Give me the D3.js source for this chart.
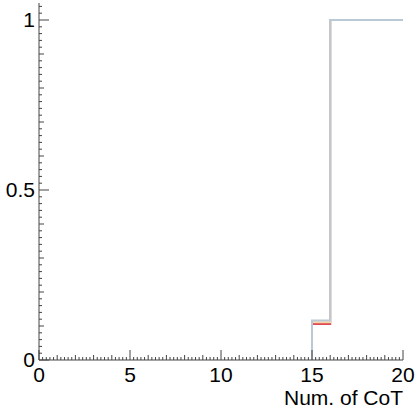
<!DOCTYPE html>
<html>
<head>
<meta charset="utf-8">
<script src="https://cdn.jsdelivr.net/npm/d3@7"></script>
<style>
  body { margin: 0; background: #fff; }
  svg { display: block; font-family: "Liberation Sans", Arial, sans-serif; }
</style>
</head>
<body>
<div id="chart"></div>
<script>
// Bin edges 0..20 (width 1), values per bin
const binEdges = d3.range(0, 21);
const blueValues   = [0,0,0,0,0,0,0,0,0,0,0,0,0,0,0,0.116,1,1,1,1];
const orangeValues = [0,0,0,0,0,0,0,0,0,0,0,0,0,0,0,0.111,1,1,1,1];
const redValues    = [0,0,0,0,0,0,0,0,0,0,0,0,0,0,0,0.106,1,1,1,1];
const xTickLabels = [0, 5, 10, 15, 20];
const yTickLabels = [0, 0.5, 1];
const xTitle = 'Num. of CoT';

(function() {
  const width = 418, height = 417;
  const svg = d3.select('#chart').append('svg')
    .attr('width', width)
    .attr('height', height);

  const x = d3.scaleLinear().domain([0, 20]).range([39, 403]);
  const y = d3.scaleLinear().domain([0, 1.05]).range([360, 3]);

  const axisColor = '#444';

  // histogram step paths (ROOT style, no drop at the ends)
  function stepPath(values) {
    const pts = [];
    let first = values.findIndex(v => v !== 0);
    if (first < 0) first = 0;
    pts.push([x(binEdges[first]), y(0)]);
    for (let i = first; i < values.length; i++) {
      pts.push([x(binEdges[i]), y(values[i])]);
      pts.push([x(binEdges[i + 1]), y(values[i])]);
    }
    return d3.line()(pts);
  }

  const series = [
    { values: redValues,    color: '#dc4a55' },
    { values: orangeValues, color: '#f5d3a4' },
    { values: blueValues,   color: '#b9c9d6' }
  ];

  svg.append('g').selectAll('path')
    .data(series)
    .enter()
    .append('path')
    .attr('d', d => stepPath(d.values))
    .attr('fill', 'none')
    .attr('stroke', d => d.color)
    .attr('stroke-width', 2);

  // X axis
  const gx = svg.append('g');
  gx.append('line')
    .attr('x1', x(0)).attr('x2', x(20))
    .attr('y1', y(0)).attr('y2', y(0))
    .attr('stroke', axisColor).attr('stroke-width', 1);

  const xMinor = d3.range(0, 100.5, 1).map(d => d / 5);
  gx.selectAll('line.tick')
    .data(xMinor)
    .enter()
    .append('line')
    .attr('class', 'tick')
    .attr('x1', d => x(d)).attr('x2', d => x(d))
    .attr('y1', y(0))
    .attr('y2', d => {
      const r = Math.round(d * 5);
      if (r % 25 === 0) return y(0) - 10;
      if (r % 5 === 0) return y(0) - 5;
      return y(0) - 3;
    })
    .attr('stroke', axisColor).attr('stroke-width', 1);

  gx.selectAll('text')
    .data(xTickLabels)
    .enter()
    .append('text')
    .attr('x', d => x(d))
    .attr('y', 382)
    .attr('text-anchor', 'middle')
    .attr('font-size', 21)
    .attr('fill', '#000')
    .text(d => d);

  svg.append('text')
    .attr('x', 403)
    .attr('y', 405)
    .attr('text-anchor', 'end')
    .attr('font-size', 21)
    .attr('fill', '#000')
    .text(xTitle);

  // Y axis
  const gy = svg.append('g');
  gy.append('line')
    .attr('x1', x(0)).attr('x2', x(0))
    .attr('y1', y(0)).attr('y2', y(1.05))
    .attr('stroke', axisColor).attr('stroke-width', 1);

  const yMinor = d3.range(0, 53).map(d => d / 50);
  gy.selectAll('line.tick')
    .data(yMinor)
    .enter()
    .append('line')
    .attr('class', 'tick')
    .attr('y1', d => y(d)).attr('y2', d => y(d))
    .attr('x1', x(0))
    .attr('x2', d => {
      const r = Math.round(d * 50);
      if (r % 25 === 0) return x(0) + 10;
      if (r % 5 === 0) return x(0) + 5;
      return x(0) + 3;
    })
    .attr('stroke', axisColor).attr('stroke-width', 1);

  gy.selectAll('text')
    .data(yTickLabels)
    .enter()
    .append('text')
    .attr('x', 35)
    .attr('y', d => y(d) + 7)
    .attr('text-anchor', 'end')
    .attr('font-size', 21)
    .attr('fill', '#000')
    .text(d => d);
})();
</script>
</body>
</html>
